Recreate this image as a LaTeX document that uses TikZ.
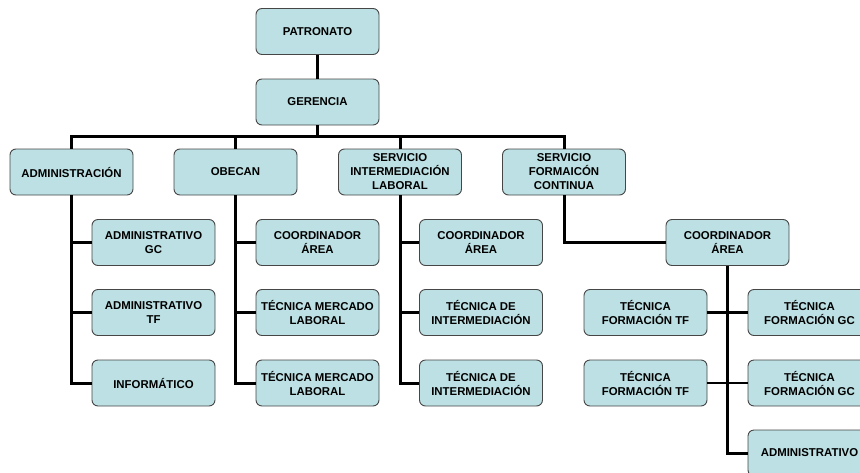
\documentclass[tikz,border=0pt]{standalone}
\usepackage{fontspec}
\setmainfont{Liberation Sans}
\usetikzlibrary{calc}

\definecolor{boxfill}{RGB}{188,224,227}
\definecolor{boxline}{RGB}{70,70,70}

\tikzset{
	unit/.style={draw=boxline, line width=0.9pt, fill=boxfill, rounded corners=6pt,
		minimum width=123pt, minimum height=46pt, inner sep=1pt, align=center,
		font=\fontsize{11.4}{14}\selectfont\bfseries},
	link/.style={line width=3pt, black},
	stub/.style={line width=2.4pt, black}
}

\begin{document}
\begin{tikzpicture}[x=1pt,y=-1pt]

	% Fix the page to the size of the chart
	\useasboundingbox (0,0) rectangle (860,472);
	\clip (0,0) rectangle (860,472);

	% Draw the top of the chart
	\node[unit] (pat) at (317.5,31.5) {PATRONATO};
	\node[unit] (ger) at (317.5,102) {GERENCIA};

	% Draw the four departments
	\node[unit] (adm) at (71.5,172) {ADMINISTRACIÓN};
	\node[unit] (obe) at (235.5,172) {OBECAN};
	\node[unit] (sil) at (400,172) {SERVICIO\\INTERMEDIACIÓN\\LABORAL};
	\node[unit] (sfc) at (564,172) {SERVICIO\\FORMAICÓN\\CONTINUA};

	% Draw the staff of administración
	\node[unit] (adgc) at (153.5,242.5) {ADMINISTRATIVO\\GC};
	\node[unit] (adtf) at (153.5,312.5) {ADMINISTRATIVO\\TF};
	\node[unit] (inf) at (153.5,383) {INFORMÁTICO};

	% Draw the staff of obecan
	\node[unit] (obco) at (317.5,242.5) {COORDINADOR\\ÁREA};
	\node[unit] (obml1) at (317.5,312.5) {TÉCNICA MERCADO\\LABORAL};
	\node[unit] (obml2) at (317.5,383) {TÉCNICA MERCADO\\LABORAL};

	% Draw the staff of intermediación
	\node[unit] (silco) at (481,242.5) {COORDINADOR\\ÁREA};
	\node[unit] (silti1) at (481,312.5) {TÉCNICA DE\\INTERMEDIACIÓN};
	\node[unit] (silti2) at (481,383) {TÉCNICA DE\\INTERMEDIACIÓN};

	% Draw the staff of formación continua
	\node[unit] (sfcco) at (727.5,242.5) {COORDINADOR\\ÁREA};
	\node[unit] (tf1) at (645.5,312.5) {TÉCNICA\\FORMACIÓN TF};
	\node[unit] (tf2) at (645.5,383) {TÉCNICA\\FORMACIÓN TF};
	\node[unit] (gc1) at (809.5,312.5) {TÉCNICA\\FORMACIÓN GC};
	\node[unit] (gc2) at (809.5,383) {TÉCNICA\\FORMACIÓN GC};
	\node[unit] (adx) at (809.5,453) {ADMINISTRATIVO};

	% Draw the lines from patronato down to the departments
	\coordinate (bus) at (0,136);
	\draw[link] (pat) -- (ger);
	\draw[link] (ger) -- (ger |- bus);
	\draw[link] (adm) |- (sfc |- bus) -- (sfc);
	\draw[link] (obe) -- (obe |- bus);
	\draw[link] (sil) -- (sil |- bus);

	% Draw the lines inside the first three departments
	\draw[link] (adm) |- (inf);
	\draw[link] (adm |- adgc) -- (adgc);
	\draw[link] (adm |- adtf) -- (adtf);
	\draw[link] (obe) |- (obml2);
	\draw[link] (obe |- obco) -- (obco);
	\draw[link] (obe |- obml1) -- (obml1);
	\draw[link] (sil) |- (silti2);
	\draw[link] (sil |- silco) -- (silco);
	\draw[link] (sil |- silti1) -- (silti1);

	% Draw the lines of formación continua
	\draw[link] (sfc) |- (sfcco);
	\draw[link] (sfcco) |- (adx);
	\draw[stub] (tf1) -- (gc1);
	\draw[stub] (tf2) -- (gc2);

\end{tikzpicture}
\end{document}
